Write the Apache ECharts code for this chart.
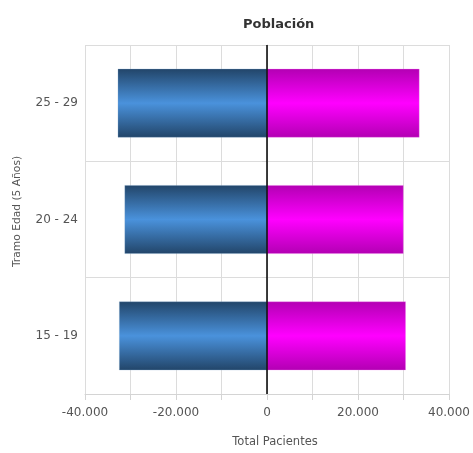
<!DOCTYPE html>
<html>
<head>
<meta charset="utf-8">
<script src="https://cdn.jsdelivr.net/npm/echarts@6/dist/echarts.min.js"></script>
<style>html,body{margin:0;padding:0;background:#fff}#c{width:473px;height:453px}</style>
</head>
<body>
<div id="c"></div>
<script>
const categories = ['15 - 19', '20 - 24', '25 - 29'];
const hombres = [-32500, -31300, -32800];
const mujeres = [30500, 30000, 33500];
const xMin = -40000, xMax = 40000, xStep = 10000;

function fmt(v) {
  const s = Math.abs(v).toString().replace(/\B(?=(\d{3})+(?!\d))/g, '.');
  return (v < 0 ? '-' : '') + s;
}
const font = 'DejaVu Sans';
const chart = echarts.init(document.getElementById('c'), null, {renderer: 'canvas'});
chart.setOption({
  animation: false,
  backgroundColor: '#fff',
  title: {
    text: 'Población', left: 238, top: 13,
    textStyle: {fontFamily: font, fontSize: 13, fontWeight: 'bold', color: '#333'}
  },
  grid: {left: 85, right: 24, top: 45, bottom: 57},
  xAxis: {
    type: 'value', min: xMin, max: xMax, interval: xStep,
    name: 'Total Pacientes', nameLocation: 'middle', nameGap: 42,
    nameTextStyle: {fontFamily: font, fontSize: 11.5, color: '#555', padding: [0, 0, 0, 16]},
    axisLine: {show: true, lineStyle: {color: '#d4d4d4'}},
    axisTick: {show: true, length: 6, lineStyle: {color: '#d4d4d4'}},
    axisLabel: {fontFamily: font, fontSize: 12, color: '#555', margin: 13,
      formatter: v => (v % 20000 === 0 ? fmt(v) : '')},
    splitLine: {show: true, lineStyle: {color: '#dcdcdc'}}
  },
  yAxis: {
    type: 'category', data: categories,
    name: 'Tramo Edad (5 Años)', nameLocation: 'middle', nameGap: 62, nameRotate: 90,
    nameTextStyle: {fontFamily: font, fontSize: 10.7, color: '#555', padding: [0, 0, 0, 16]},
    axisLine: {show: true, lineStyle: {color: '#d4d4d4'}},
    axisTick: {show: true, length: 5, lineStyle: {color: '#d4d4d4'}},
    axisLabel: {fontFamily: font, fontSize: 12, color: '#555', margin: 7},
    splitLine: {show: true, lineStyle: {color: '#dcdcdc'}}
  },
  series: [
    {
      name: 'Hombres', type: 'bar', stack: 'p', data: hombres, barWidth: '59%',
      itemStyle: {
        borderColor: 'rgba(120,160,200,0.6)', borderWidth: 0.5,
        color: new echarts.graphic.LinearGradient(0, 0, 0, 1, [
          {offset: 0, color: '#224569'},
          {offset: 0.5, color: '#4a92dc'},
          {offset: 1, color: '#224569'}
        ])
      },
      markLine: {
        silent: true, symbol: 'none', label: {show: false},
        lineStyle: {color: '#000', width: 1.5, type: 'solid'},
        data: [{xAxis: 0}]
      }
    },
    {
      name: 'Mujeres', type: 'bar', stack: 'p', data: mujeres, barWidth: '59%',
      itemStyle: {
        borderColor: 'rgba(240,120,240,0.6)', borderWidth: 0.5,
        color: new echarts.graphic.LinearGradient(0, 0, 0, 1, [
          {offset: 0, color: '#b300b3'},
          {offset: 0.5, color: '#ff00ff'},
          {offset: 1, color: '#b300b3'}
        ])
      }
    }
  ]
});
</script>
</body>
</html>
